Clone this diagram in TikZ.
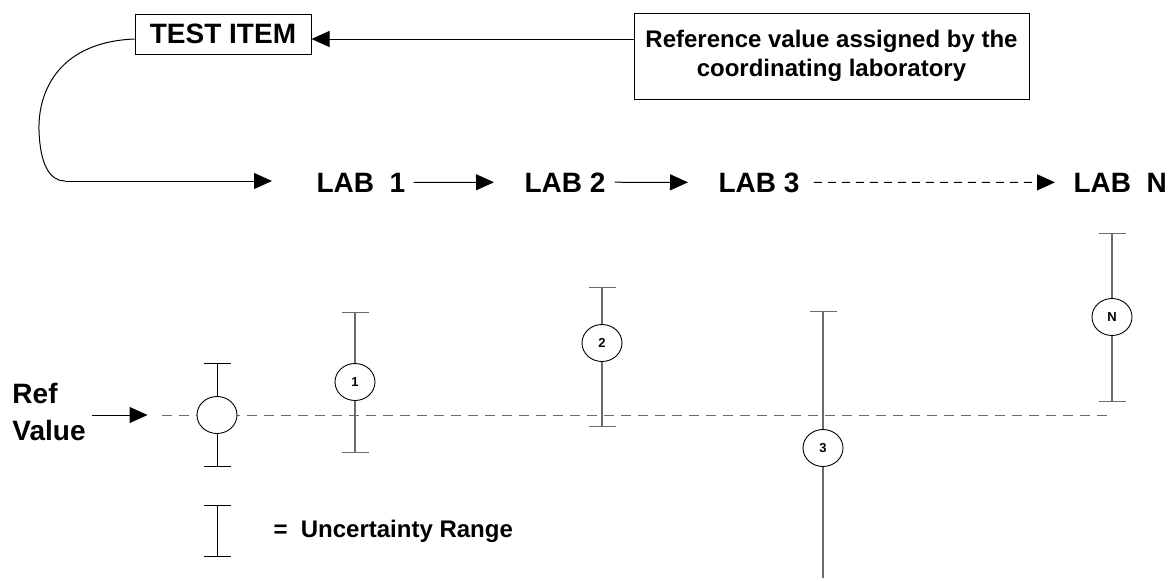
\documentclass[tikz,border=0pt]{standalone}
\usepackage{fontspec}
\setmainfont{Liberation Sans}
\usetikzlibrary{positioning,arrows.meta,shapes.geometric}
\definecolor{bargray}{gray}{0.42}

\begin{document}
\begin{tikzpicture}[x=1pt, y=-1pt, line width=1pt,
	block/.style = { rectangle, draw=black, line width=1pt, fill=white,
	inner sep=0pt },
	lab/.style = { inner sep=0pt, anchor=base west,
	font=\fontsize{28}{34}\selectfont\bfseries },
	arr/.style = { -{Triangle[length=18pt, width=16pt]} },
	dot/.style = { ellipse, draw=black, line width=0.9pt, fill=white,
	minimum width=40pt, minimum height=37pt, inner sep=0pt,
	font=\fontsize{13}{15}\selectfont\bfseries },
	ebar/.style = { draw=bargray, line width=1.1pt,
	{Bar[width=27pt]}-{Bar[width=27pt]} } ]

  \useasboundingbox (0,0) rectangle (1168,581);

  \node [name=test, block, minimum width=176pt, minimum height=40pt,
	font=\fontsize{28}{34}\selectfont\bfseries] at (223,34) { TEST ITEM };
  \node [name=ref, block, minimum width=395pt, minimum height=86pt,
	align=center, font=\fontsize{24}{29}\selectfont\bfseries]
	at (831.5,56) { Reference value assigned by the\\ coordinating laboratory };
  \coordinate (tin) at ([yshift=-5pt]test.east);
  \coordinate (tout) at ([yshift=-5pt]test.west);
  \draw [arr] (ref.west |- tin) -- (tin);

  \node [name=lab1, lab] at (316,192) { LAB\ \ 1 };
  \node [name=lab2, lab] at (524,192) { LAB 2 };
  \node [name=lab3, lab] at (718,192) { LAB 3 };
  \node [name=labn, lab] at (1073,192) { LAB\ \ N };

  \draw (tout) .. controls (60,42) and (38,90) .. (39,130)
	.. controls (40,165) and (50,181) .. (65,181) coordinate (turn);
  \draw [arr, shorten >=44pt] (turn) -- (turn -| lab1.west);
  \draw [arr, shorten <=8pt, shorten >=30pt] (lab1.east) -- (lab2.west);
  \draw [arr, shorten <=9pt, shorten >=30pt] (lab2.east) -- (lab3.west);
  \draw [arr, dashed, dash pattern=on 8pt off 6pt,
	shorten <=14pt, shorten >=18pt] (lab3.east) -- (labn.west);

  \node [name=refval, align=left, inner sep=0pt, anchor=north west,
	font=\fontsize{28}{37}\selectfont\bfseries] at (12,383) { Ref\\Value };

  \draw [bargray, dash pattern=on 10pt off 7pt] (162,415) coordinate (dl)
	-- (1107,415) coordinate (dr);

  \foreach \n/\x/\t/\b in {1/355/312/453, 2/602/287/427, n/1112/233/402}
	\draw [ebar] (\x,\t) coordinate (top\n) -- (\x,\b) coordinate (bot\n);
  \draw [ebar, draw=black, line width=1pt] (217,363) coordinate (topr)
	-- (217,467) coordinate (botr);
  \draw [ebar, {Bar[width=27pt]}-] (823,311) coordinate (top3)
	-- (823,578) coordinate (bot3);

  \node [name=rc, dot] at (217,415) {};
  \node [name=c1, dot] at (355,382) {1};
  \node [name=c2, dot] at (602,343) {2};
  \node [name=c3, dot] at (823,448) {3};
  \node [name=cn, dot] at (1112,317) {N};

  \draw [arr, shorten <=6pt, shorten >=49pt] (refval.east |- rc) -- (rc.west);

  \draw [ebar, draw=black, line width=1pt] (217,505) coordinate (keytop)
	-- (217,557) coordinate (keybot);
  \coordinate (keymid) at (217,531);
  \node [name=key, inner sep=0pt, font=\fontsize{24}{29}\selectfont\bfseries,
	right=56pt of keymid] { =\ \ Uncertainty Range };
\end{tikzpicture}
\end{document}
